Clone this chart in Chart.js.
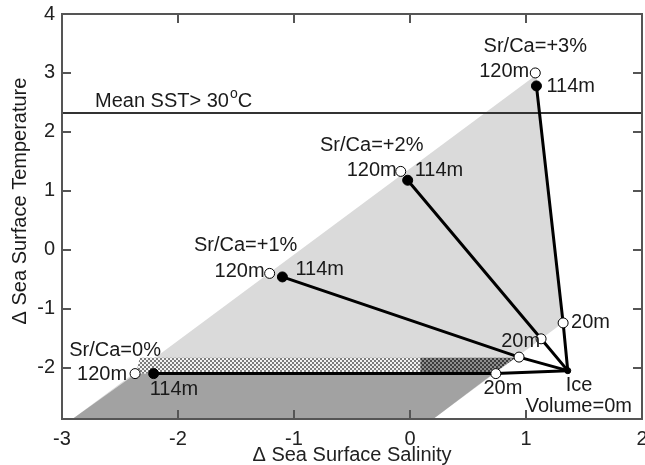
<!DOCTYPE html>
<html lang="en">
<head>
<meta charset="UTF-8">
<title>Sr/Ca SST vs SSS</title>
<script src="https://cdn.jsdelivr.net/npm/chart.js"></script>
<style>
    body { margin: 0; background: #fff; }
    #wrap { width: 645px; height: 465px; }
</style>
</head>
<body>
<div id="wrap"><canvas id="c" width="645" height="465"></canvas></div>
<script>
// ---- data ----
const srCaLabels = ['Sr/Ca=0%', 'Sr/Ca=+1%', 'Sr/Ca=+2%', 'Sr/Ca=+3%'];
const sss120 = [-2.37, -1.21, -0.08, 1.08];
const sst120 = [-2.10, -0.40, 1.33, 3.00];
const sss114 = [-2.21, -1.10, -0.02, 1.09];
const sst114 = [-2.10, -0.46, 1.18, 2.78];
const sss20 = [0.74, 0.94, 1.13, 1.32];
const sst20 = [-2.10, -1.82, -1.51, -1.24];
const iceSSS = 1.36;
const iceSST = -2.05;
const meanSST = 2.32;

const xTicks = [-3, -2, -1, 0, 1, 2];
const yTicks = [-2, -1, 0, 1, 2, 3, 4];
const xMin = -3, xMax = 2, yMin = -2.87, yMax = 4;

// shaded regions (polygon corners)
const bandSSS = [-2.91, 1.09, 1.31, 0.20];
const bandSST = [-2.87, 2.97, -1.25, -2.87];
const darkSSS = [-2.91, -2.36, 0.72, 0.20];
const darkSST = [-2.87, -2.10, -2.10, -2.87];
const hatchLightSSS = [-2.36, -2.33, 0.09, 0.09];
const hatchLightSST = [-2.10, -1.83, -1.83, -2.10];
const hatchDarkSSS = [0.09, 0.09, 0.91, 0.72];
const hatchDarkSST = [-2.10, -1.83, -1.83, -2.10];

function pts(xs, ys) {
    return xs.map((x, i) => ({ x: x, y: ys[i] }));
}
function closed(xs, ys) {
    const p = pts(xs, ys);
    p.push(p[0]);
    return p;
}

// small checker pattern for the hatched strip
function makePattern(bg, dot) {
    const t = document.createElement('canvas');
    t.width = 4; t.height = 4;
    const g = t.getContext('2d');
    g.fillStyle = bg;
    g.fillRect(0, 0, 4, 4);
    g.fillStyle = dot;
    g.fillRect(0, 0, 2, 2);
    g.fillRect(2, 2, 2, 2);
    return document.createElement('canvas').getContext('2d').createPattern(t, 'repeat');
}

const polyStyle = { showLine: true, pointRadius: 0, borderWidth: 0, fill: 'shape', tension: 0 };

const datasets = [
    Object.assign({ data: closed(bandSSS, bandSST), backgroundColor: '#dadada', borderColor: '#dadada', order: 20 }, polyStyle),
    Object.assign({ data: closed(darkSSS, darkSST), backgroundColor: '#a2a2a2', borderColor: '#a2a2a2', order: 19 }, polyStyle),
    Object.assign({ data: closed(hatchLightSSS, hatchLightSST), backgroundColor: makePattern('#7c7c7c', '#f4f4f4'), borderColor: 'transparent', order: 18 }, polyStyle),
    Object.assign({ data: closed(hatchDarkSSS, hatchDarkSST), backgroundColor: makePattern('#3c3c3c', '#8e8e8e'), borderColor: 'transparent', order: 17 }, polyStyle),
    {
        data: [{ x: xMin, y: meanSST }, { x: xMax, y: meanSST }],
        showLine: true, borderColor: '#333', borderWidth: 2, pointRadius: 0, order: 10
    }
];

// Sr/Ca lines: 114m -> 20m -> ice
srCaLabels.forEach((lab, i) => {
    datasets.push({
        data: [{ x: sss114[i], y: sst114[i] }, { x: sss20[i], y: sst20[i] }, { x: iceSSS, y: iceSST }],
        showLine: true, borderColor: '#000', borderWidth: 3, pointRadius: 0, tension: 0, order: 5
    });
});

// open circles: 120m and 20m
datasets.push({
    data: pts(sss120, sst120).concat(pts(sss20, sst20)),
    pointRadius: 5, pointBackgroundColor: '#fff', pointBorderColor: '#000', pointBorderWidth: 1, order: 2
});
// filled circles: 114m
datasets.push({
    data: pts(sss114, sst114),
    pointRadius: 5, pointBackgroundColor: '#000', pointBorderColor: '#000', pointBorderWidth: 1, order: 1
});
datasets.push({
    data: [{ x: iceSSS, y: iceSST }],
    pointRadius: 3, pointBackgroundColor: '#000', pointBorderColor: '#000', order: 1
});

// text annotations anchored to the data points (pixel offsets)
const labelSpecs = [];
srCaLabels.forEach((lab, i) => {
    const off = [
        { t: [-20, -23], a: [-8, 1], b: [-4, 16], bAlign: 'left' },
        { t: [-24, -28], a: [-5, -2], b: [13, -7], bAlign: 'left' },
        { t: [-29, -26], a: [-4, -1], b: [7, -10], bAlign: 'left' },
        { t: [0, -26], a: [-6, -1], b: [10, 1], bAlign: 'left' }
    ][i];
    labelSpecs.push({ text: lab, x: sss120[i], y: sst120[i], dx: off.t[0], dy: off.t[1], align: 'center' });
    labelSpecs.push({ text: '120m', x: sss120[i], y: sst120[i], dx: off.a[0], dy: off.a[1], align: 'right' });
    labelSpecs.push({ text: '114m', x: sss114[i], y: sst114[i], dx: off.b[0], dy: off.b[1], align: off.bAlign });
});
labelSpecs.push({ text: '20m', x: sss20[3], y: sst20[3], dx: 8, dy: 0, align: 'left' });
labelSpecs.push({ text: '20m', x: sss20[2], y: sst20[2], dx: -1, dy: 3, align: 'right' });
labelSpecs.push({ text: '20m', x: sss20[0], y: sst20[0], dx: 7, dy: 15, align: 'center' });
labelSpecs.push({ text: 'Ice', x: iceSSS, y: iceSST, dx: -2, dy: 15, align: 'left' });
labelSpecs.push({ text: 'Volume=0m', x: iceSSS, y: iceSST, dx: -42, dy: 36, align: 'left' });

const FONT = 'Liberation Sans, Arial, Helvetica, sans-serif';

const framePlugin = {
    id: 'frame',
    afterDraw(chart) {
        const ctx = chart.ctx;
        const a = chart.chartArea;
        const xs = chart.scales.x, ys = chart.scales.y;
        ctx.save();
        // box and inward ticks
        ctx.strokeStyle = '#555';
        ctx.lineWidth = 2;
        ctx.strokeRect(a.left, a.top, a.right - a.left, a.bottom - a.top);
        ctx.beginPath();
        xTicks.forEach(v => {
            if (v <= xMin || v >= xMax) return;
            const px = Math.round(xs.getPixelForValue(v));
            ctx.moveTo(px, a.bottom); ctx.lineTo(px, a.bottom - 9);
            ctx.moveTo(px, a.top); ctx.lineTo(px, a.top + 9);
        });
        yTicks.forEach(v => {
            if (v <= yMin || v >= yMax) return;
            const py = Math.round(ys.getPixelForValue(v));
            ctx.moveTo(a.left, py); ctx.lineTo(a.left + 9, py);
            ctx.moveTo(a.right, py); ctx.lineTo(a.right - 9, py);
        });
        ctx.stroke();

        // annotations
        ctx.fillStyle = '#1a1a1a';
        ctx.font = '20px ' + FONT;
        ctx.textBaseline = 'middle';
        labelSpecs.forEach(l => {
            ctx.textAlign = l.align;
            ctx.fillText(l.text, xs.getPixelForValue(l.x) + l.dx, ys.getPixelForValue(l.y) + l.dy);
        });

        // Mean SST label with superscript degree
        const mx = xs.getPixelForValue(xMin) + 33;
        const my = ys.getPixelForValue(meanSST) - 6;
        ctx.textAlign = 'left';
        ctx.textBaseline = 'alphabetic';
        let s = 'Mean SST> 30';
        ctx.fillText(s, mx, my);
        let w = ctx.measureText(s).width + 1;
        ctx.font = '14px ' + FONT;
        ctx.fillText('o', mx + w, my - 9);
        w += ctx.measureText('o').width;
        ctx.font = '20px ' + FONT;
        ctx.fillText('C', mx + w, my);

        // y axis title
        ctx.translate(20, 201);
        ctx.rotate(-Math.PI / 2);
        ctx.textAlign = 'center';
        ctx.textBaseline = 'middle';
        ctx.fillText('\u0394 Sea Surface Temperature', 0, 0);
        ctx.restore();
    }
};

new Chart(document.getElementById('c'), {
    type: 'scatter',
    data: { datasets: datasets },
    options: {
        responsive: false,
        animation: false,
        events: [],
        layout: { autoPadding: false, padding: { top: 14, right: 3, left: 0, bottom: 0 } },
        plugins: { legend: { display: false }, tooltip: { enabled: false } },
        scales: {
            x: {
                type: 'linear', min: xMin, max: xMax,
                afterFit: s => { s.height = 46; s.paddingLeft = 0; s.paddingRight = 0; },
                afterBuildTicks: s => { s.ticks = xTicks.map(v => ({ value: v })); },
                grid: { display: false, drawTicks: false },
                border: { display: false },
                ticks: { padding: 8, color: '#222', font: { size: 20, family: FONT } },
                title: {
                    display: true, text: '\u0394 Sea Surface Salinity', color: '#222',
                    font: { size: 20, family: FONT }, padding: { top: 0, bottom: -2 }
                }
            },
            y: {
                type: 'linear', min: yMin, max: yMax,
                afterFit: s => { s.width = 62; s.paddingTop = 0; s.paddingBottom = 0; },
                afterBuildTicks: s => { s.ticks = yTicks.map(v => ({ value: v })); },
                grid: { display: false, drawTicks: false },
                border: { display: false },
                ticks: { padding: 7, color: '#222', font: { size: 20, family: FONT } }
            }
        }
    },
    plugins: [framePlugin]
});
</script>
</body>
</html>
